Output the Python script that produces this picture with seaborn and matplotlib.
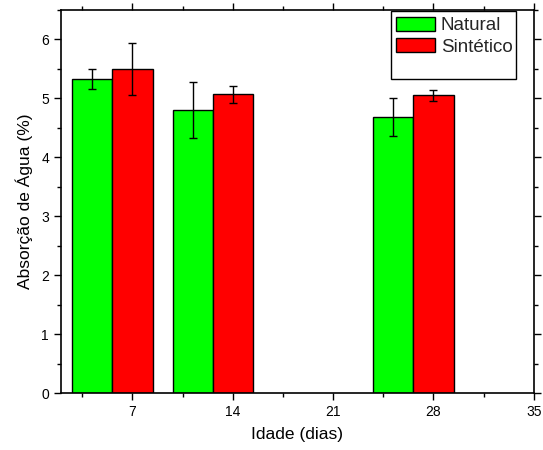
import numpy as np
import pandas as pd
import matplotlib
matplotlib.use("Agg")
import matplotlib.pyplot as plt
import seaborn as sns
from matplotlib.patches import Patch, Rectangle
from matplotlib.ticker import MultipleLocator

# Data
idade = [7, 14, 28]
natural = [5.33, 4.80, 4.69]
natural_err = [0.17, 0.48, 0.32]
sintetico = [5.50, 5.07, 5.05]
sintetico_err = [0.44, 0.14, 0.09]
series_labels = ["Natural", "Sintético"]
xticks = [7, 14, 21, 28, 35]

sns.set_theme(style="ticks")
plt.rcParams['font.family'] = ['Liberation Sans', 'DejaVu Sans']

fig = plt.figure(figsize=(5.43, 4.5), dpi=100)
ax = fig.add_axes([0.112, 0.126, 0.871, 0.852])

bar_w = 0.4
spacing = 7
offset = bar_w * spacing

df_nat = pd.DataFrame({"pos": np.array(idade) - offset, "val": natural})
df_sin = pd.DataFrame({"pos": np.array(idade, dtype=float), "val": sintetico})

sns.barplot(data=df_nat, x="pos", y="val", native_scale=True, width=bar_w,
            color="#00ff00", saturation=1, edgecolor="black", linewidth=1.0,
            errorbar=None, ax=ax)
sns.barplot(data=df_sin, x="pos", y="val", native_scale=True, width=bar_w,
            color="#ff0000", saturation=1, edgecolor="black", linewidth=1.0,
            errorbar=None, ax=ax)

ax.errorbar(df_nat["pos"], natural, yerr=natural_err, fmt="none", ecolor="black",
            elinewidth=1.0, capsize=2.8, capthick=1.0)
ax.errorbar(df_sin["pos"], sintetico, yerr=sintetico_err, fmt="none", ecolor="black",
            elinewidth=1.0, capsize=2.8, capthick=1.0)

ax.set_xlim(2, 35)
ax.set_ylim(0, 6.5)
ax.set_xticks(xticks)
ax.set_xticklabels([str(t) for t in xticks])
ax.xaxis.set_minor_locator(MultipleLocator(3.5))
ax.set_yticks(range(0, 7))
ax.yaxis.set_minor_locator(MultipleLocator(0.5))

for s in ax.spines.values():
    s.set_visible(True)
    s.set_color("black")
    s.set_linewidth(1.2)

ax.tick_params(axis="both", which="major", direction="out", length=5, width=1,
               labelsize=10, color="black", labelcolor="black")
ax.tick_params(axis="both", which="minor", direction="out", length=3, width=1, color="black")
ax.tick_params(axis="x", which="both", top=True)
ax.tick_params(axis="y", which="both", right=True)
for t in ax.xaxis.get_major_ticks() + ax.xaxis.get_minor_ticks():
    t.tick2line.set_color("#bbbbbb")
for t in ax.yaxis.get_major_ticks() + ax.yaxis.get_minor_ticks():
    t.tick2line.set_color("#bbbbbb")

ax.set_xlabel("Idade (dias)", fontsize=12.5, color="black", labelpad=6)
ax.set_ylabel("Absorção de Água (%)", fontsize=12.5, color="black", labelpad=6)

# Legend
ax.add_patch(Rectangle((0.698, 0.82), 0.264, 0.176, transform=ax.transAxes,
                       facecolor="white", edgecolor="black", linewidth=1.0, zorder=5))
handles = [Patch(facecolor="#00ff00", edgecolor="black", linewidth=1.0),
           Patch(facecolor="#ff0000", edgecolor="black", linewidth=1.0)]
leg = ax.legend(handles, series_labels, loc="upper left", bbox_to_anchor=(0.698, 0.995),
                frameon=False, fontsize=13.5, handlelength=2.1, handleheight=0.8,
                handletextpad=0.3, labelspacing=0.2, borderpad=0.25, borderaxespad=0.0)
leg.set_zorder(6)

fig.savefig("out.png", dpi=100)
